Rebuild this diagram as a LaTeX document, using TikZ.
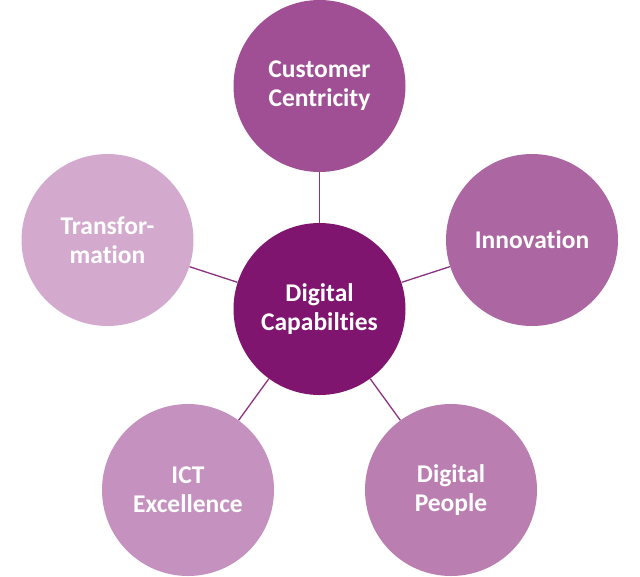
\documentclass[tikz,border=0pt]{standalone}
\usepackage{fontspec}
\setmainfont[Ligatures=NoCommon]{Carlito}
\definecolor{cmain}{HTML}{801570}
\definecolor{ctop}{HTML}{A04F94}
\definecolor{cinno}{HTML}{AC66A2}
\definecolor{cpeople}{HTML}{BA7EB0}
\definecolor{cict}{HTML}{C592C0}
\definecolor{ctrans}{HTML}{D3AACE}
\definecolor{cline}{HTML}{8B3282}
\tikzset{
  bubble/.style={circle, minimum size=172pt, inner sep=0pt, text=white, align=center,
    font=\fontsize{25.5}{29}\selectfont\bfseries},
  link/.style={draw=cline, line width=1.3pt}
}
\begin{document}
\begin{tikzpicture}[x=1pt,y=-1pt]
\useasboundingbox (0,0) rectangle (640,576);
\node[bubble, fill=cmain] (c) at (319.5,309) {Digital\\Capabilties};
\node[bubble, fill=ctop] (t) at (319.5,86) {Customer\\Centricity};
\node[bubble, fill=cinno] (i) at (532,240) {Innovation};
\node[bubble, fill=cpeople] (p) at (451,490) {Digital\\People};
\node[bubble, fill=cict] (e) at (188,490) {ICT\\Excellence};
\node[bubble, fill=ctrans] (f) at (107.5,240) {Transfor-\\mation};
\draw[link] (c) -- (t);
\draw[link] (c) -- (i);
\draw[link] (c) -- (p);
\draw[link] (c) -- (e);
\draw[link] (c) -- (f);
\end{tikzpicture}
\end{document}
